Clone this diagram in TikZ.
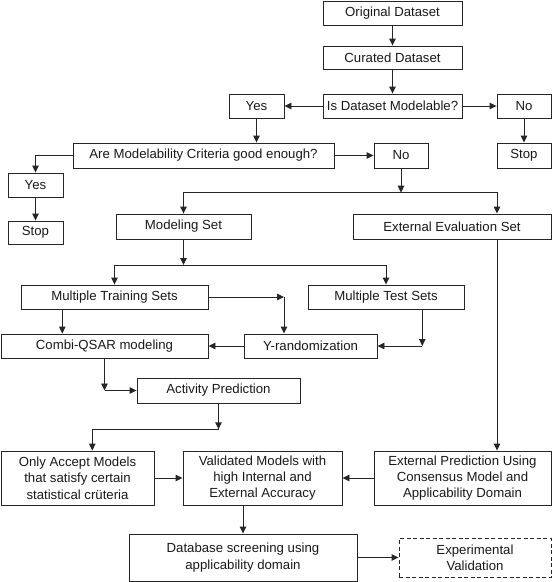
\documentclass[tikz,border=0pt]{standalone}
\usepackage{fontspec}
\setmainfont{Liberation Sans}
\usetikzlibrary{arrows.meta}
\begin{document}
\begin{tikzpicture}[x=1pt,y=-1pt,
  box/.style={draw=black!85, line width=0.9pt, inner sep=0pt, align=center,
    font=\fontsize{13.2}{16.3}\selectfont, text=black!90},
  arr/.style={draw=black!85, line width=0.9pt, -{Triangle[length=7pt,width=6.5pt]}},
  ln/.style={draw=black!85, line width=0.9pt}]
\useasboundingbox (0,0) rectangle (553,582);
% nodes
\node[box, minimum width=139pt, minimum height=24.5pt] (orig) at (392.5,13.25) {Original Dataset};
\node[box, minimum width=139pt, minimum height=23.5pt] (cur) at (392.5,57.75) {Curated Dataset};
\node[box, minimum width=139pt, minimum height=24pt] (ism) at (392.5,106) {Is Dataset Modelable?};
\node[box, minimum width=55pt, minimum height=24pt] (yes1) at (256.5,106) {Yes};
\node[box, minimum width=54pt, minimum height=24pt] (no1) at (524,106) {No};
\node[box, minimum width=54pt, minimum height=25pt] (stop1) at (524,155.5) {Stop};
\node[box, minimum width=261pt, minimum height=25pt] (crit) at (203.5,155.5) {Are Modelability Criteria good enough?};
\node[box, minimum width=54pt, minimum height=25pt] (no2) at (401,155.5) {No};
\node[box, minimum width=55pt, minimum height=24pt] (yes2) at (35.5,185) {Yes};
\node[box, minimum width=55pt, minimum height=23pt] (stop2) at (35.5,232.5) {Stop};
\node[box, minimum width=135pt, minimum height=25pt] (mod) at (183.5,226.5) {Modeling Set};
\node[box, minimum width=198pt, minimum height=25pt] (ext) at (452,226.5) {External Evaluation Set};
\node[box, minimum width=187pt, minimum height=24pt] (train) at (114.5,297) {Multiple Training Sets};
\node[box, minimum width=156pt, minimum height=24pt] (test) at (386,297) {Multiple Test Sets};
\node[box, minimum width=207pt, minimum height=24pt] (combi) at (104.5,346) {Combi-QSAR modeling};
\node[box, minimum width=133pt, minimum height=24pt] (yrand) at (310.5,346) {Y-randomization};
\node[box, minimum width=163pt, minimum height=25pt] (act) at (218.5,390.5) {Activity Prediction};
\node[box, minimum width=153pt, minimum height=54pt] (only) at (77.5,478) {Only Accept Models\\that satisfy certain\\statistical crüteria};
\node[box, minimum width=159pt, minimum height=54pt] (valid) at (262.5,478) {Validated Models with\\high Internal and\\External Accuracy};
\node[box, minimum width=177pt, minimum height=54pt] (extp) at (462.5,478) {External Prediction Using\\Consensus Model and\\Applicability Domain};
\node[box, minimum width=228pt, minimum height=47pt] (db) at (243,557.5) {Database screening using\\applicability domain};
\node[box, dash pattern=on 4pt off 2.5pt, minimum width=152pt, minimum height=39pt] (expv) at (475,558) {Experimental\\Validation};
% helper coordinates
\coordinate (split1) at (401,192.7);
\coordinate (ej) at (497,192.7);
\coordinate (split2) at (183.5,265);
\coordinate (tx) at (62.3,0);
\coordinate (c1) at (284,297);
\coordinate (c2) at (422.3,346);
\coordinate (c3) at (104.5,390.5);
\coordinate (c4) at (218.5,429.3);
\coordinate (c5) at (92.3,429.3);
% connectors
\draw[arr] (orig) -- (cur);
\draw[arr] (cur) -- (ism);
\draw[arr] (ism.west) -- (yes1.east);
\draw[arr] (ism.east) -- (no1.west);
\draw[arr] (no1) -- (stop1);
\draw[arr] (yes1.south) -- (yes1.south |- crit.north);
\draw[arr] (crit.east) -- (no2.west);
\draw[arr] (crit.west) -| (yes2.north);
\draw[arr] (yes2) -- (stop2);
\draw[arr] (no2.south) -- (split1);
\draw[arr] (split1) -| (mod.north);
\draw[arr] (split1) -| (ej |- ext.north);
\draw[arr] (mod.south) -- (split2);
\draw[arr] (split2) -| (train.north);
\draw[arr] (split2) -| (test.north);
\draw[arr] (tx |- train.south) -- (tx |- combi.north);
\draw[arr] (train.east |- c1) -- (c1);
\draw[arr] (c1) -- (c1 |- yrand.north);
\draw[arr] (c2 |- test.south) -- (c2);
\draw[arr] (c2) -- (c2 -| yrand.east);
\draw[arr] (yrand.west) -- (combi.east);
\draw[arr] (combi.south) -- (c3);
\draw[arr] (c3) -- (act.west);
\draw[arr] (act.south) -- (c4);
\draw[arr] (c4) -- (c5) -- (c5 |- only.north);
\draw[arr] (only.east) -- (valid.west);
\draw[arr] (extp.west) -- (valid.east);
\draw[arr] (ej |- ext.south) -- (ej |- extp.north);
\draw[arr] (db.north |- valid.south) -- (db.north);
\draw[arr] (db.east) -- (db.east -| expv.west);
\end{tikzpicture}
\end{document}
